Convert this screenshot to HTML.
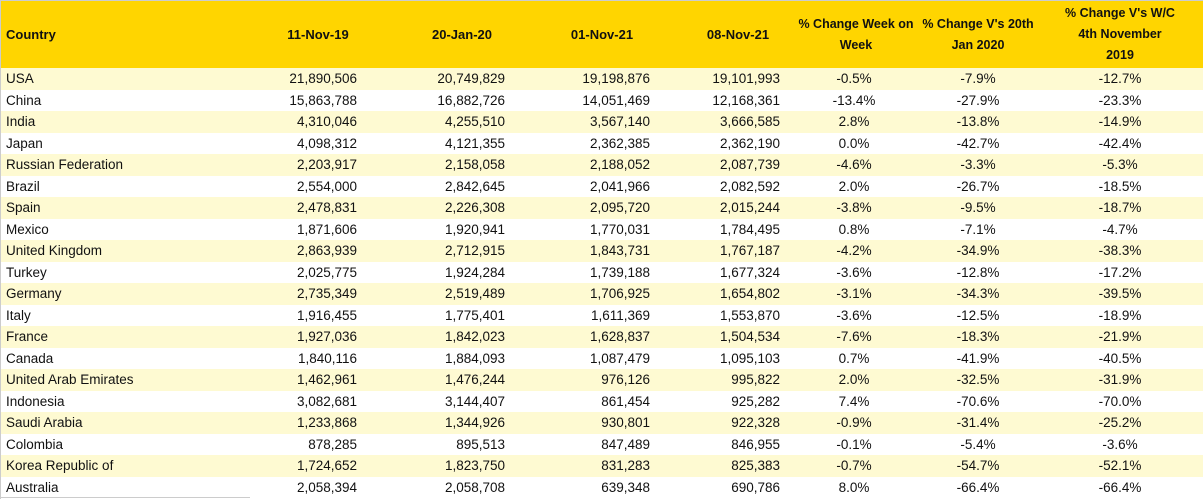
<!DOCTYPE html>
<html><head><meta charset="utf-8"><style>
body{margin:0;width:1203px;height:499px;overflow:hidden;background:#fff;font-family:"Liberation Sans",Arial,sans-serif;color:#111}
.hd{position:absolute;left:0;top:0;width:1203px;height:68px;background:#FFD500;border-top:1px solid #ccc;box-sizing:border-box}
.h{position:absolute;font-weight:bold;font-size:13px;text-align:center;line-height:21px}
.r{position:absolute;left:0;width:1203px;height:21.5px;font-size:13.5px;line-height:21.5px}
.r.a{background:#FEFAD2}
.r span{position:absolute;top:0}
.c0{left:6px}
.n1{right:846px}.n2{right:698px}.n3{right:553px}.n4{right:423px}
.p5{left:794px;width:120px;text-align:center}
.p6{left:918px;width:120px;text-align:center}
.p7{left:1060px;width:120px;text-align:center}
</style></head><body>
<div class="hd"></div>
<div class="h" style="left:6px;top:24px;text-align:left">Country</div>
<div class="h" style="left:268px;top:24px;width:100px">11-Nov-19</div>
<div class="h" style="left:412px;top:24px;width:100px">20-Jan-20</div>
<div class="h" style="left:552px;top:24px;width:100px">01-Nov-21</div>
<div class="h" style="left:688px;top:24px;width:100px">08-Nov-21</div>
<div class="h" style="left:794px;top:14px;width:124px;font-size:12.5px">% Change Week on Week</div>
<div class="h" style="left:916px;top:14px;width:124px;font-size:12.5px">% Change V's 20th<br>Jan 2020</div>
<div class="h" style="left:1058px;top:3px;width:124px;font-size:12.5px">% Change V's W/C<br>4th November<br>2019</div>
<div id="rows"></div>
<div style="position:absolute;left:0;top:0;width:1px;height:499px;background:#ccc"></div>
<div style="position:absolute;left:0;top:497px;width:250px;height:1px;background:#ccc"></div>
<script>
var d=[["USA","21,890,506","20,749,829","19,198,876","19,101,993","-0.5%","-7.9%","-12.7%"],
["China","15,863,788","16,882,726","14,051,469","12,168,361","-13.4%","-27.9%","-23.3%"],
["India","4,310,046","4,255,510","3,567,140","3,666,585","2.8%","-13.8%","-14.9%"],
["Japan","4,098,312","4,121,355","2,362,385","2,362,190","0.0%","-42.7%","-42.4%"],
["Russian Federation","2,203,917","2,158,058","2,188,052","2,087,739","-4.6%","-3.3%","-5.3%"],
["Brazil","2,554,000","2,842,645","2,041,966","2,082,592","2.0%","-26.7%","-18.5%"],
["Spain","2,478,831","2,226,308","2,095,720","2,015,244","-3.8%","-9.5%","-18.7%"],
["Mexico","1,871,606","1,920,941","1,770,031","1,784,495","0.8%","-7.1%","-4.7%"],
["United Kingdom","2,863,939","2,712,915","1,843,731","1,767,187","-4.2%","-34.9%","-38.3%"],
["Turkey","2,025,775","1,924,284","1,739,188","1,677,324","-3.6%","-12.8%","-17.2%"],
["Germany","2,735,349","2,519,489","1,706,925","1,654,802","-3.1%","-34.3%","-39.5%"],
["Italy","1,916,455","1,775,401","1,611,369","1,553,870","-3.6%","-12.5%","-18.9%"],
["France","1,927,036","1,842,023","1,628,837","1,504,534","-7.6%","-18.3%","-21.9%"],
["Canada","1,840,116","1,884,093","1,087,479","1,095,103","0.7%","-41.9%","-40.5%"],
["United Arab Emirates","1,462,961","1,476,244","976,126","995,822","2.0%","-32.5%","-31.9%"],
["Indonesia","3,082,681","3,144,407","861,454","925,282","7.4%","-70.6%","-70.0%"],
["Saudi Arabia","1,233,868","1,344,926","930,801","922,328","-0.9%","-31.4%","-25.2%"],
["Colombia","878,285","895,513","847,489","846,955","-0.1%","-5.4%","-3.6%"],
["Korea Republic of","1,724,652","1,823,750","831,283","825,383","-0.7%","-54.7%","-52.1%"],
["Australia","2,058,394","2,058,708","639,348","690,786","8.0%","-66.4%","-66.4%"]];
var cls=["c0","n1","n2","n3","n4","p5","p6","p7"],h="";
d.forEach(function(r,i){h+='<div class="r'+(i%2==0?' a':'')+'" style="top:'+(68+i*21.5)+'px">';
r.forEach(function(v,j){h+='<span class="'+cls[j]+'">'+v+'</span>'});h+='</div>'});
document.getElementById("rows").innerHTML=h;
</script>
</body></html>
